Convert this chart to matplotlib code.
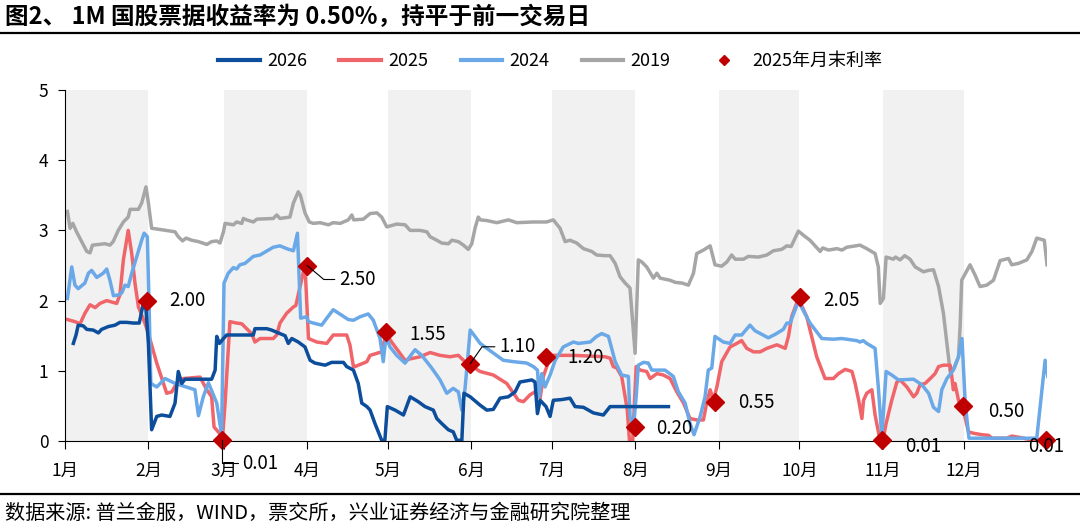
import matplotlib
matplotlib.use("Agg")
import matplotlib.pyplot as plt
from matplotlib.lines import Line2D

plt.rcParams['font.family'] = ['Noto Sans CJK SC', 'DejaVu Sans']

# x = 一年中的第几天 (1月1日 = 0)
month_starts = [0, 31, 59, 90, 120, 151, 181, 212, 243, 273, 304, 334]
month_labels = ['1月', '2月', '3月', '4月', '5月', '6月',
                '7月', '8月', '9月', '10月', '11月', '12月']

y2019 = [
    (0.9, 3.27), (1.9, 3.03), (2.9, 3.10), (4.3, 2.98), (6.2, 2.84), (8.1, 2.70),
    (9.3, 2.68), (10.2, 2.79), (12.4, 2.80), (14.9, 2.81), (16.7, 2.79), (17.9, 2.84),
    (19.8, 3.00), (21.7, 3.12), (23.5, 3.19), (24.2, 3.30), (27.3, 3.30), (28.5, 3.39),
    (30.1, 3.62), (31.0, 3.39), (32.2, 3.03), (34.1, 3.02), (40.9, 2.98), (42.1, 2.91),
    (43.7, 2.85), (45.0, 2.89), (47.1, 2.86), (49.6, 2.84), (52.7, 2.80), (54.5, 2.84),
    (56.4, 2.85), (57.6, 2.82), (58.9, 2.98), (59.5, 3.10), (62.6, 3.08), (63.8, 3.12),
    (65.7, 3.10), (66.3, 3.17), (67.5, 3.15), (70.0, 3.12), (71.3, 3.16), (77.4, 3.17),
    (78.7, 3.22), (79.9, 3.17), (83.6, 3.19), (84.9, 3.39), (86.7, 3.55), (87.5, 3.50),
    (89.2, 3.25), (90.8, 3.12), (92.3, 3.10), (94.8, 3.11), (97.9, 3.08), (99.7, 3.11),
    (102.3, 3.10), (105.3, 3.15), (106.6, 3.22), (107.3, 3.15), (110.9, 3.16), (113.4, 3.24),
    (115.9, 3.25), (117.7, 3.19), (119.6, 3.05), (123.3, 3.09), (126.4, 3.08), (128.3, 3.00),
    (132.0, 3.00), (134.5, 2.98), (135.7, 2.91), (138.2, 2.86), (140.0, 2.82), (142.5, 2.81),
    (143.8, 2.86), (146.2, 2.84), (148.1, 2.79), (149.9, 2.73), (151.2, 2.81), (152.4, 3.03),
    (153.6, 3.19), (154.4, 3.15), (156.8, 3.14), (160.5, 3.11), (164.8, 3.15), (167.9, 3.11),
    (174.1, 3.12), (179.0, 3.12), (181.5, 3.15), (184.0, 3.03), (185.9, 2.84), (187.7, 2.86),
    (190.2, 2.82), (192.7, 2.74), (195.8, 2.70), (197.6, 2.65), (200.7, 2.64), (202.6, 2.64),
    (204.5, 2.53), (206.3, 2.34), (208.2, 2.25), (210.0, 2.18), (211.9, 1.25), (213.1, 2.58),
    (214.4, 2.55), (216.2, 2.48), (218.7, 2.32), (220.0, 2.39), (221.2, 2.32), (224.9, 2.29),
    (226.8, 2.26), (229.3, 2.25), (231.7, 2.22), (233.6, 2.39), (234.8, 2.67), (237.3, 2.72),
    (239.8, 2.78), (241.6, 2.51), (244.1, 2.49), (246.0, 2.55), (247.8, 2.65), (249.1, 2.59),
    (252.2, 2.59), (254.0, 2.63), (257.7, 2.62), (260.9, 2.65), (263.3, 2.71), (266.4, 2.73),
    (268.3, 2.78), (269.9, 2.77), (272.6, 2.99), (274.5, 2.93), (276.9, 2.86), (280.7, 2.70),
    (281.6, 2.75), (283.8, 2.72), (286.9, 2.74), (288.8, 2.72), (290.6, 2.76), (295.5, 2.79),
    (298.0, 2.74), (301.1, 2.67), (302.3, 2.48), (303.0, 1.96), (304.2, 2.03), (305.2, 2.62),
    (307.9, 2.59), (308.7, 2.62), (310.4, 2.58), (312.1, 2.64), (314.1, 2.59), (316.0, 2.48),
    (319.1, 2.41), (320.9, 2.43), (322.8, 2.44), (324.7, 2.20), (326.5, 1.82), (327.8, 1.39),
    (329.0, 0.99), (330.5, 1.04), (332.1, 1.20), (332.7, 1.63), (333.3, 2.29), (336.4, 2.51),
    (338.3, 2.36), (340.1, 2.20), (342.6, 2.22), (345.1, 2.29), (347.6, 2.57), (350.7, 2.60),
    (351.9, 2.51), (354.4, 2.53), (357.5, 2.58), (359.4, 2.70), (361.2, 2.89), (364.0, 2.86),
    (365.0, 2.51),
]

y2025 = [
    (0.9, 1.73), (3.7, 1.70), (5.6, 1.67), (7.4, 1.82), (9.3, 1.94), (11.2, 1.90),
    (13.0, 1.96), (15.5, 2.00), (17.4, 1.98), (19.2, 1.96), (20.4, 2.08), (21.7, 2.58),
    (23.5, 3.00), (24.8, 2.67), (26.0, 2.25), (27.3, 1.91), (29.7, 1.68), (31.0, 1.53),
    (34.1, 1.11), (37.8, 0.68), (39.7, 0.70), (41.5, 0.82), (42.8, 0.88), (44.0, 0.89),
    (50.2, 0.91), (52.7, 0.73), (54.5, 0.63), (55.4, 0.20), (57.4, 0.11), (58.5, 0.02),
    (59.5, 0.54), (61.3, 1.70), (63.8, 1.68), (65.7, 1.67), (67.5, 1.60), (69.4, 1.53),
    (70.6, 1.41), (72.5, 1.46), (77.4, 1.46), (78.7, 1.51), (79.9, 1.68), (82.4, 1.82),
    (84.9, 1.91), (85.8, 1.93), (87.4, 2.20), (89.2, 2.51), (90.5, 1.46), (93.6, 1.41),
    (97.3, 1.39), (99.7, 1.51), (104.7, 1.51), (105.9, 1.37), (107.2, 1.06), (107.8, 1.06),
    (112.2, 1.13), (113.4, 1.22), (115.9, 1.25), (117.7, 1.27), (119.3, 1.53), (121.4, 1.41),
    (126.4, 1.15), (128.3, 1.17), (132.0, 1.20), (135.7, 1.26), (139.4, 1.22), (143.1, 1.20),
    (146.2, 1.22), (148.1, 1.15), (150.6, 1.08), (154.3, 0.99), (159.2, 0.94), (164.2, 0.82),
    (168.5, 0.58), (170.4, 0.56), (172.9, 0.66), (174.7, 0.70), (176.6, 0.61), (177.8, 0.92),
    (179.7, 1.13), (181.5, 1.22), (184.0, 1.22), (189.0, 1.22), (195.2, 1.21), (200.7, 1.20),
    (202.6, 1.18), (203.8, 1.06), (205.1, 1.04), (206.9, 0.92), (208.2, 0.63), (209.0, 0.44),
    (209.8, 0.01), (211.0, 0.01), (212.3, 1.06), (213.8, 1.01), (216.2, 0.99), (217.5, 0.89),
    (220.0, 0.96), (222.4, 0.94), (224.9, 0.89), (227.4, 0.70), (229.9, 0.54), (232.3, 0.32),
    (234.8, 0.30), (237.3, 0.30), (238.5, 0.54), (239.8, 0.73), (241.0, 0.58), (242.3, 0.77),
    (244.1, 1.13), (247.2, 1.34), (249.7, 1.39), (251.5, 1.43), (253.4, 1.32), (255.9, 1.27),
    (258.4, 1.27), (260.9, 1.32), (264.6, 1.37), (267.7, 1.32), (268.9, 1.49), (270.1, 1.77),
    (272.6, 2.03), (275.7, 1.77), (279.4, 1.20), (282.5, 0.89), (285.6, 0.89), (287.5, 0.96),
    (290.0, 1.02), (292.5, 0.99), (293.7, 0.82), (295.0, 0.58), (296.2, 0.32), (296.8, 0.58),
    (298.0, 0.68), (299.9, 0.73), (301.1, 0.37), (302.7, 0.06), (304.0, 0.01), (305.2, 0.25),
    (307.3, 0.58), (309.2, 0.84), (310.4, 0.87), (312.9, 0.77), (315.4, 0.63), (316.6, 0.68),
    (317.8, 0.80), (319.7, 0.82), (321.6, 0.89), (323.4, 0.96), (324.7, 1.06), (326.5, 1.08),
    (329.0, 1.08), (329.6, 0.92), (330.2, 0.73), (330.8, 0.82), (332.1, 0.58), (333.9, 0.44),
    (335.8, 0.13), (337.7, 0.11), (340.8, 0.09), (343.3, 0.08), (344.5, 0.04), (350.1, 0.04),
    (351.9, 0.07), (355.0, 0.05), (358.7, 0.02), (363.7, 0.01),
]

y2024 = [
    (0.9, 2.03), (2.5, 2.48), (3.7, 2.22), (4.9, 2.17), (7.4, 2.25), (8.7, 2.39),
    (9.9, 2.43), (11.8, 2.33), (14.2, 2.39), (15.5, 2.45), (16.7, 2.29), (18.0, 2.07),
    (19.8, 2.08), (21.1, 2.11), (22.3, 2.22), (23.5, 2.20), (24.8, 2.39), (26.7, 2.63),
    (28.5, 2.86), (29.4, 2.96), (30.6, 2.91), (31.3, 1.87), (31.9, 0.82), (34.1, 0.77),
    (37.2, 0.89), (40.9, 0.82), (48.3, 0.73), (49.6, 0.36), (51.4, 0.63), (53.3, 0.83),
    (56.4, 0.54), (58.2, 0.09), (59.1, 2.25), (60.7, 2.39), (62.6, 2.47), (63.8, 2.45),
    (65.0, 2.51), (66.9, 2.53), (70.0, 2.63), (72.5, 2.65), (75.6, 2.72), (77.4, 2.76),
    (79.9, 2.78), (82.4, 2.74), (84.9, 2.71), (86.4, 2.96), (87.6, 1.75), (89.8, 1.77),
    (90.5, 1.70), (92.3, 1.68), (95.4, 1.65), (97.3, 1.75), (99.7, 1.87), (102.9, 1.79),
    (105.3, 1.73), (107.2, 1.72), (109.7, 1.77), (112.7, 1.81), (114.6, 1.72), (117.1, 1.46),
    (118.3, 1.13), (119.3, 1.49), (120.8, 1.34), (123.3, 1.22), (126.4, 1.11), (130.1, 1.30),
    (132.6, 1.22), (136.3, 1.04), (139.4, 0.87), (141.9, 0.68), (144.3, 0.75), (146.2, 0.70),
    (147.5, 0.44), (148.7, 0.75), (150.6, 1.58), (152.4, 1.49), (154.3, 1.39), (158.6, 1.27),
    (162.9, 1.15), (166.7, 1.13), (171.6, 1.11), (174.1, 1.06), (175.6, 1.01), (176.3, 0.63),
    (177.2, 0.96), (178.4, 0.77), (180.3, 0.94), (182.2, 1.15), (185.2, 1.34), (189.0, 1.41),
    (190.8, 1.39), (195.2, 1.41), (197.6, 1.49), (199.5, 1.53), (202.0, 1.49), (204.5, 1.13),
    (206.9, 0.94), (209.4, 0.92), (210.0, 0.35), (211.3, 0.20), (212.3, 0.63), (213.1, 1.08),
    (215.0, 1.12), (216.8, 1.11), (218.1, 1.01), (223.0, 1.01), (226.1, 0.92), (228.0, 0.70),
    (230.5, 0.54), (232.3, 0.25), (233.8, 0.09), (236.1, 0.35), (237.9, 0.63), (239.1, 1.01),
    (240.4, 1.04), (241.6, 1.49), (244.7, 1.41), (247.2, 1.39), (249.1, 1.51), (251.5, 1.51),
    (254.6, 1.65), (256.5, 1.57), (261.4, 1.47), (264.0, 1.52), (267.0, 1.59), (268.3, 1.68),
    (269.5, 1.68), (272.6, 1.99), (276.9, 1.68), (281.3, 1.46), (285.6, 1.45), (288.7, 1.46),
    (290.6, 1.45), (294.3, 1.43), (295.5, 1.41), (296.7, 1.43), (298.0, 1.39), (301.1, 1.32),
    (302.3, 0.77), (303.6, 0.06), (305.2, 0.99), (307.3, 0.94), (309.8, 0.87), (315.4, 0.88),
    (318.5, 0.80), (321.0, 0.68), (322.8, 0.48), (324.7, 0.42), (325.9, 0.73), (327.8, 0.89),
    (330.2, 1.01), (332.1, 1.20), (333.4, 1.46), (334.6, 0.54), (336.0, 0.04), (347.6, 0.04),
    (361.2, 0.04), (364.3, 1.15), (365.3, 0.92),
]

y2026 = [
    (3.1, 1.39), (4.1, 1.51), (4.9, 1.65), (6.8, 1.64), (8.1, 1.59), (10.5, 1.58),
    (12.4, 1.54), (13.6, 1.59), (16.1, 1.63), (18.6, 1.65), (20.4, 1.69), (22.9, 1.69),
    (25.4, 1.68), (27.6, 1.68), (29.1, 1.96), (30.1, 1.87), (31.0, 1.39), (32.2, 0.16),
    (34.1, 0.35), (35.9, 0.37), (39.0, 0.35), (40.9, 0.54), (42.1, 0.99), (43.4, 0.82),
    (44.6, 0.88), (54.5, 0.88), (55.8, 1.01), (56.4, 1.49), (57.4, 1.39), (58.9, 1.46),
    (60.1, 1.51), (70.0, 1.51), (70.6, 1.60), (75.0, 1.60), (76.8, 1.58), (79.9, 1.53),
    (81.8, 1.50), (83.0, 1.39), (84.3, 1.46), (86.7, 1.41), (89.2, 1.34), (91.1, 1.15),
    (92.9, 1.11), (96.7, 1.08), (99.1, 1.12), (103.5, 1.12), (104.7, 1.06), (107.2, 1.01),
    (109.0, 0.82), (110.3, 0.54), (112.2, 0.49), (113.4, 0.44), (115.2, 0.25), (117.7, 0.01),
    (118.9, 0.01), (119.8, 0.49), (122.7, 0.44), (125.8, 0.37), (128.3, 0.63), (131.3, 0.56),
    (133.8, 0.49), (136.9, 0.44), (138.2, 0.32), (140.0, 0.25), (142.5, 0.16), (144.3, 0.13),
    (145.6, 0.01), (147.5, 0.01), (148.3, 0.68), (150.6, 0.63), (154.3, 0.51), (156.8, 0.44),
    (159.2, 0.45), (161.7, 0.61), (164.8, 0.63), (167.3, 0.70), (169.1, 0.84), (173.5, 0.87),
    (174.7, 0.84), (175.6, 0.39), (176.6, 0.58), (178.8, 0.49), (180.3, 0.35), (181.5, 0.58),
    (184.6, 0.59), (187.7, 0.61), (189.6, 0.49), (192.7, 0.48), (196.4, 0.40), (200.1, 0.37),
    (202.6, 0.49), (224.3, 0.49),
]

# 2025年月末利率
me_days = [30.5, 58.4, 90.0, 119.3, 150.6, 178.8, 211.9, 241.6, 273.2, 303.8, 333.6, 364.5]
me_vals = [2.00, 0.01, 2.50, 1.55, 1.10, 1.20, 0.20, 0.55, 2.05, 0.01, 0.50, 0.01]
me_labels = ['2.00', '0.01', '2.50', '1.55', '1.10', '1.20',
             '0.20', '0.55', '2.05', '0.01', '0.50', '0.01']

c2026 = '#0c4e9b'
c2025 = '#f0656a'
c2024 = '#6aa8e8'
c2019 = '#a6a6a6'
cdot = '#c00000'

fig = plt.figure(figsize=(10.8, 5.3), dpi=100)
ax = fig.add_axes([65 / 1080, 1 - 441 / 530, 982 / 1080, 351 / 530])

# 单数月灰色底纹
for i in range(0, 12, 2):
    end = month_starts[i + 1] if i + 1 < 12 else 365
    ax.axvspan(month_starts[i], end, color='#f1f1f1', lw=0, zorder=0)


def draw(series, color, label):
    xs = [p[0] for p in series]
    ys = [p[1] for p in series]
    ax.plot(xs, ys, color=color, lw=2.5, label=label, zorder=2,
            solid_joinstyle='round')


draw(y2019, c2019, '2019')
draw(y2025, c2025, '2025')
draw(y2024, c2024, '2024')
draw(y2026, c2026, '2026')
ax.plot(me_days, me_vals, 'D', color=cdot, ms=9, zorder=5, clip_on=False)

# 数据标签 (像素偏移)
offsets = [(40, 0), (38, -23), (50, -14), (42, -2), (47, 17), (40, -1),
           (39, -2), (41, 0), (41, -3), (41, -6), (44, -6), (1, -6)]
leaders = {1: 'angle,angleA=0,angleB=90,rad=0',
           2: 'angle,angleA=0,angleB=-40,rad=0',
           4: 'angle,angleA=0,angleB=55,rad=0'}
for i, (d, v, t) in enumerate(zip(me_days, me_vals, me_labels)):
    dx, dy = offsets[i]
    kw = {}
    if i in leaders:
        kw['arrowprops'] = dict(arrowstyle='-', color='black', lw=0.8,
                                shrinkA=1, shrinkB=0, relpos=(0, 0.5),
                                connectionstyle=leaders[i])
    ax.annotate(t, xy=(d, v), xytext=(dx, dy), textcoords='offset pixels',
                ha='center', va='center', fontsize=13.5, color='black',
                zorder=6, annotation_clip=False, **kw)

ax.set_xlim(0, 365)
ax.set_ylim(0, 5)
ax.set_xticks(month_starts)
ax.set_xticklabels(month_labels)
ax.set_yticks([0, 1, 2, 3, 4, 5])
ax.tick_params(axis='both', labelsize=12.5, direction='out', color='black')
ax.tick_params(axis='x', length=6, pad=9)
ax.tick_params(axis='y', length=5, pad=7)
for s in ['top', 'right']:
    ax.spines[s].set_visible(False)
ax.spines['left'].set_linewidth(0.8)
ax.spines['bottom'].set_linewidth(0.8)

handles = [Line2D([], [], color=c2026, lw=3),
           Line2D([], [], color=c2025, lw=3),
           Line2D([], [], color=c2024, lw=3),
           Line2D([], [], color=c2019, lw=3),
           Line2D([], [], color=cdot, marker='D', ms=5, lw=0)]
fig.legend(handles, ['2026', '2025', '2024', '2019', '2025年月末利率'],
           loc='center', bbox_to_anchor=(550 / 1080, 1 - 61 / 530), ncol=5,
           frameon=False, fontsize=13, handlelength=2.3, handletextpad=0.4,
           columnspacing=1.8)

fig.text(5 / 1080, 1 - 17 / 530, '图2、 1M 国股票据收益率为 0.50%，持平于前一交易日',
         fontsize=17, fontweight='bold', ha='left', va='center')
fig.add_artist(Line2D([0, 1], [1 - 33 / 530, 1 - 33 / 530], color='black', lw=1.6))
fig.add_artist(Line2D([0, 1], [1 - 494 / 530, 1 - 494 / 530], color='black', lw=1.6))
fig.text(5 / 1080, 1 - 513 / 530, '数据来源: 普兰金服，WIND，票交所，兴业证券经济与金融研究院整理',
         fontsize=14.5, ha='left', va='center')

fig.savefig('out.png', dpi=100)
